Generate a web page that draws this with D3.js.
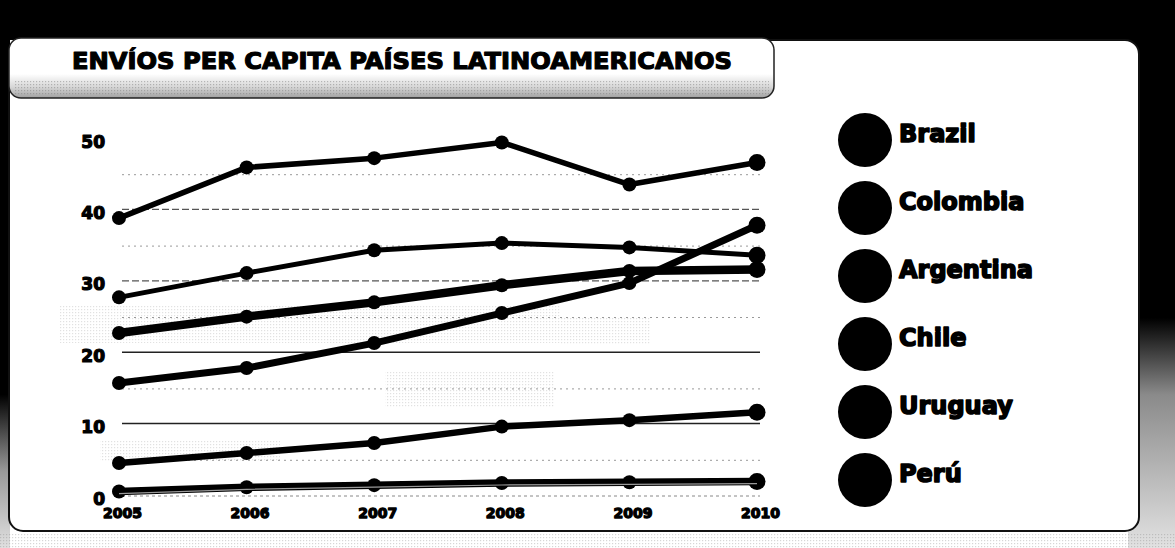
<!DOCTYPE html>
<html>
<head>
<meta charset="utf-8">
<script src="https://cdn.jsdelivr.net/npm/d3@7"></script>
<style>
  html, body { margin: 0; padding: 0; background: #ffffff; }
  svg { display: block; }
  .heavy { font-family: "DejaVu Sans", "Liberation Sans", sans-serif; font-weight: bold; fill: #000; stroke: #000; stroke-linejoin: round; }
</style>
</head>
<body>
<svg id="chart" width="1175" height="548"></svg>
<script>
// ---- data ----
const years = ["2005", "2006", "2007", "2008", "2009", "2010"];
const brazil    = [39.2, 46.3, 47.6, 49.8, 43.9, 47.0];
const colombia  = [28.1, 31.5, 34.7, 35.7, 35.1, 34.0];
const argentina = [23.1, 25.4, 27.4, 29.8, 31.8, 32.0];
const chile     = [16.1, 18.2, 21.7, 25.9, 30.1, 38.2];
const uruguay   = [4.9, 6.3, 7.7, 10.0, 10.9, 12.0];
const peru      = [0.9, 1.5, 1.8, 2.1, 2.2, 2.3];
const countries = ["Brazil", "Colombia", "Argentina", "Chile", "Uruguay", "Perú"];
const yTicks = [0, 10, 20, 30, 40, 50];
const minorTicks = [5, 15, 25, 35, 45];
const title = "ENVÍOS PER CAPITA PAÍSES LATINOAMERICANOS";

const seriesValues = [brazil, colombia, argentina, chile, uruguay, peru];
const strokeW = [5.5, 5, 8.5, 7, 6.5, 7.5];

const svg = d3.select("#chart");
const defs = svg.append("defs");

const g1 = defs.append("linearGradient").attr("id", "titleShade").attr("x1", 0).attr("y1", 0).attr("x2", 0).attr("y2", 1);
g1.append("stop").attr("offset", "0%").attr("stop-color", "#ffffff");
g1.append("stop").attr("offset", "60%").attr("stop-color", "#ffffff");
g1.append("stop").attr("offset", "82%").attr("stop-color", "#d6d6d6");
g1.append("stop").attr("offset", "100%").attr("stop-color", "#a0a0a0");

const g2 = defs.append("linearGradient").attr("id", "sideFade").attr("x1", 0).attr("y1", 0).attr("x2", 0).attr("y2", 1);
g2.append("stop").attr("offset", "0%").attr("stop-color", "#000");
g2.append("stop").attr("offset", "58%").attr("stop-color", "#000");
g2.append("stop").attr("offset", "72%").attr("stop-color", "#8a8a8a");
g2.append("stop").attr("offset", "100%").attr("stop-color", "#e2e2e2");

const g3 = defs.append("linearGradient").attr("id", "leftFade").attr("x1", 0).attr("y1", 0).attr("x2", 0).attr("y2", 1);
g3.append("stop").attr("offset", "0%").attr("stop-color", "#000");
g3.append("stop").attr("offset", "72%").attr("stop-color", "#000");
g3.append("stop").attr("offset", "86%").attr("stop-color", "#999");
g3.append("stop").attr("offset", "100%").attr("stop-color", "#e0e0e0");

const pat = defs.append("pattern").attr("id", "dots").attr("width", 3).attr("height", 3).attr("patternUnits", "userSpaceOnUse");
pat.append("rect").attr("width", 1.2).attr("height", 1.2).attr("fill", "#777");

// ---- frame ----
svg.append("rect").attr("x", 0).attr("y", 0).attr("width", 1175).attr("height", 40).attr("fill", "#000");
svg.append("rect").attr("x", 0).attr("y", 0).attr("width", 10).attr("height", 548).attr("fill", "url(#leftFade)");
svg.append("rect").attr("x", 1128).attr("y", 0).attr("width", 47).attr("height", 548).attr("fill", "url(#sideFade)");
svg.append("rect").attr("x", 0).attr("y", 533).attr("width", 1175).attr("height", 15).attr("fill", "url(#dots)").attr("opacity", 0.3);

svg.append("rect")
  .attr("x", 9).attr("y", 40).attr("width", 1130).attr("height", 491)
  .attr("rx", 14).attr("ry", 14)
  .attr("fill", "#fff").attr("stroke", "#111").attr("stroke-width", 2);

svg.append("rect")
  .attr("x", 9).attr("y", 38).attr("width", 765).attr("height", 60)
  .attr("rx", 12).attr("ry", 12)
  .attr("fill", "url(#titleShade)").attr("stroke", "#222").attr("stroke-width", 1.5);
svg.append("rect").attr("x", 14).attr("y", 80).attr("width", 755).attr("height", 16)
  .attr("fill", "url(#dots)").attr("opacity", 0.45);

svg.append("text").attr("class", "heavy")
  .attr("x", 72).attr("y", 69)
  .attr("font-size", 23).attr("stroke-width", 1.2)
  .attr("textLength", 660).attr("lengthAdjust", "spacingAndGlyphs")
  .text(title);

// ---- scales ----
const x = d3.scalePoint().domain(years).range([119, 757]);
const y = d3.scaleLinear().domain([0, 50]).range([498, 141]);

// faint scan noise patches
const noise = [[60, 305, 500, 38], [385, 372, 170, 36], [560, 318, 90, 26], [100, 440, 180, 22]];
svg.append("g").selectAll("rect").data(noise).join("rect")
  .attr("x", d => d[0]).attr("y", d => d[1]).attr("width", d => d[2]).attr("height", d => d[3])
  .attr("fill", "url(#dots)").attr("opacity", 0.22);

// ---- grid ----
const grid = svg.append("g");
grid.selectAll("line.major").data(yTicks.filter(d => d > 0 && d < 50)).join("line")
  .attr("class", "major")
  .attr("x1", 122).attr("x2", 760)
  .attr("y1", d => y(d) - 3).attr("y2", d => y(d) - 3)
  .attr("stroke", d => d >= 30 ? "#555" : "#222")
  .attr("stroke-width", d => d >= 30 ? 1.2 : 1.5)
  .attr("stroke-dasharray", d => d >= 30 ? "7,3" : null);
grid.selectAll("line.minor").data(minorTicks).join("line")
  .attr("class", "minor")
  .attr("x1", 122).attr("x2", 760)
  .attr("y1", d => y(d) - 2).attr("y2", d => y(d) - 2)
  .attr("stroke", "#999").attr("stroke-width", 1)
  .attr("stroke-dasharray", "2,4");
grid.append("line")
  .attr("x1", 122).attr("x2", 760).attr("y1", y(0) - 2).attr("y2", y(0) - 2)
  .attr("stroke", "#888").attr("stroke-width", 1).attr("stroke-dasharray", "3,3");

// ---- axes (labels only) ----
const yAxis = d3.axisLeft(y).tickValues(yTicks).tickSize(0).tickPadding(0).tickFormat(d3.format("d"));
const yg = svg.append("g").attr("transform", "translate(105,0)").call(yAxis);
yg.select(".domain").remove();
yg.selectAll("text").attr("class", "heavy").attr("font-size", 17).attr("stroke-width", 1.2).attr("dy", "0.36em")
  .attr("font-family", null);

const xAxis = d3.axisBottom(x).tickSize(0).tickPadding(0);
const xg = svg.append("g").attr("transform", "translate(3,506)").call(xAxis);
xg.select(".domain").remove();
xg.selectAll("text").attr("class", "heavy").attr("font-size", 14).attr("stroke-width", 1.3).attr("dy", "0.85em")
  .attr("font-family", null);

// ---- series ----
const line = d3.line().x((d, i) => x(years[i])).y(d => y(d));
const series = svg.append("g");
seriesValues.forEach((vals, k) => {
  const g = series.append("g");
  g.append("path").datum(vals).attr("d", line)
    .attr("fill", "none").attr("stroke", "#000")
    .attr("stroke-width", strokeW[k]).attr("stroke-linejoin", "round").attr("stroke-linecap", "round");
  g.selectAll("circle").data(vals).join("circle")
    .attr("cx", (d, i) => x(years[i])).attr("cy", d => y(d))
    .attr("r", (d, i) => (i === vals.length - 1 ? 8.5 : 7))
    .attr("fill", "#000");
});
series.append("path").datum(peru).attr("d", line)
  .attr("transform", "translate(0,2)")
  .attr("fill", "none").attr("stroke", "#999").attr("stroke-width", 1.2);

// ---- legend ----
const ly = d3.scalePoint().domain(countries).range([140, 480]);
const lg = svg.append("g");
lg.selectAll("circle").data(countries).join("circle")
  .attr("cx", 865).attr("cy", d => ly(d)).attr("r", 27).attr("fill", "#000");
lg.selectAll("text").data(countries).join("text")
  .attr("class", "heavy")
  .attr("x", 899).attr("y", d => ly(d) + 2)
  .attr("font-size", 24).attr("stroke-width", 1.6)
  .text(d => d);
</script>
</body>
</html>
